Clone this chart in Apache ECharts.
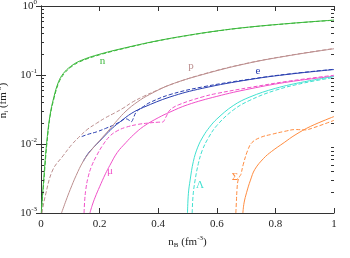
<!DOCTYPE html>
<html><head><meta charset="utf-8">
<script src="https://cdn.jsdelivr.net/npm/echarts@6/dist/echarts.min.js"></script>
<style>html,body{margin:0;padding:0;background:#fff}#c{width:350px;height:258px}</style>
</head><body><div id="c"></div>
<script>
// Data: [nB, n_i]
var nSolid = [[0.001,0.001],[0.004,0.0016],[0.008,0.0026],[0.013,0.005],[0.019,0.01],[0.03,0.025],[0.044,0.048],[0.06,0.08],[0.076,0.105],[0.1,0.132],[0.133,0.16],[0.2,0.2],[0.3,0.255],[0.4,0.315],[0.5,0.375],[0.6,0.435],[0.7,0.49],[0.85,0.56],[1.0,0.625]];
var nDashed = [[0.002,0.001],[0.005,0.0016],[0.009,0.0026],[0.014,0.005],[0.02,0.01],[0.031,0.025],[0.045,0.047],[0.061,0.078],[0.078,0.103],[0.1,0.128],[0.133,0.156],[0.2,0.196],[0.3,0.252],[0.4,0.313],[0.5,0.373],[0.6,0.433],[0.7,0.488],[0.85,0.558],[1.0,0.622]];
var pSolid = [[0.07,0.001],[0.085,0.0015],[0.1,0.0022],[0.12,0.0035],[0.144,0.0056],[0.17,0.008],[0.2,0.0112],[0.235,0.0165],[0.26,0.022],[0.29,0.03],[0.33,0.041],[0.37,0.052],[0.44,0.072],[0.55,0.101],[0.7,0.146],[0.85,0.192],[1.0,0.24]];
var pDashed = [[0.003,0.001],[0.015,0.0018],[0.04,0.0042],[0.076,0.0068],[0.105,0.0098],[0.133,0.013],[0.16,0.0165],[0.19,0.02],[0.22,0.024],[0.25,0.028],[0.28,0.033],[0.31,0.04],[0.35,0.049],[0.4,0.061],[0.44,0.072],[0.55,0.102],[0.7,0.147],[0.85,0.193],[1.0,0.242]];
var eSolid = [[0.144,0.0056],[0.16,0.0072],[0.18,0.009],[0.2,0.011],[0.22,0.0135],[0.245,0.0172],[0.27,0.021],[0.31,0.028],[0.35,0.034],[0.44,0.048],[0.55,0.064],[0.713,0.086],[0.85,0.103],[1.0,0.12]];
var eDashed = [[0.139,0.0128],[0.16,0.0138],[0.19,0.015],[0.22,0.0168],[0.25,0.019],[0.27,0.021],[0.29,0.0232],[0.3,0.0222],[0.308,0.021],[0.315,0.0235],[0.325,0.029],[0.35,0.035],[0.372,0.04],[0.44,0.052],[0.55,0.067],[0.713,0.087],[0.85,0.104],[1.0,0.121]];
var muSolid = [[0.167,0.001],[0.175,0.0013],[0.185,0.0017],[0.2,0.0024],[0.22,0.0037],[0.235,0.0049],[0.26,0.0075],[0.29,0.0105],[0.315,0.0135],[0.35,0.018],[0.4,0.024],[0.44,0.029],[0.5,0.037],[0.6,0.049],[0.713,0.063],[0.85,0.08],[1.0,0.096]];
var muDashed = [[0.147,0.001],[0.149,0.0015],[0.153,0.0022],[0.16,0.0032],[0.172,0.0047],[0.19,0.0068],[0.21,0.0095],[0.235,0.013],[0.26,0.0155],[0.29,0.0175],[0.33,0.0192],[0.37,0.0202],[0.4,0.0207],[0.415,0.0208],[0.425,0.024],[0.44,0.031],[0.47,0.037],[0.55,0.048],[0.6,0.054],[0.713,0.066],[0.85,0.082],[1.0,0.099]];
var lamSolid = [[0.5,0.001],[0.503,0.0019],[0.509,0.003],[0.52,0.0056],[0.535,0.009],[0.554,0.013],[0.575,0.0175],[0.6,0.023],[0.656,0.036],[0.713,0.048],[0.8,0.064],[0.9,0.08],[1.0,0.095]];
var lamDashed = [[0.516,0.001],[0.519,0.0018],[0.526,0.003],[0.537,0.0052],[0.55,0.008],[0.57,0.012],[0.6,0.0185],[0.656,0.031],[0.713,0.043],[0.8,0.06],[0.9,0.077],[1.0,0.092]];
var sigSolid = [[0.689,0.001],[0.693,0.0014],[0.702,0.002],[0.715,0.003],[0.73,0.0043],[0.76,0.0062],[0.787,0.0078],[0.83,0.0105],[0.867,0.0135],[0.92,0.018],[1.0,0.025]];
var sigDashed = [[0.665,0.001],[0.667,0.0015],[0.669,0.0022],[0.672,0.0029],[0.678,0.0034],[0.682,0.0036],[0.69,0.005],[0.705,0.008],[0.72,0.0105],[0.75,0.0125],[0.787,0.0138],[0.83,0.0152],[0.87,0.0162],[0.9,0.016],[0.93,0.0172],[1.0,0.022]];
var xTicks = [0, 0.2, 0.4, 0.6, 0.8, 1];
var yMajor = [0.001, 0.01, 0.1, 1];
var yMinor = [];
[0.001,0.01,0.1].forEach(function(d){for(var k=2;k<=9;k++){yMinor.push(+(d*k).toPrecision(3));}});

var FONT = '"Liberation Serif","DejaVu Serif",serif';
var C = {n:'#3cb83c', p:'#bc8f8f', e:'#2a3fb0', mu:'#f050c8', lam:'#40e0d0', sig:'#ff8c40'};
function line(data,color,dashed,z){
  return {type:'line',data:data,showSymbol:false,symbol:'none',smooth:0.4,
    xAxisIndex:0,yAxisIndex:0,z:z||2,
    lineStyle:{color:color,width:1,type:dashed?[4,2]:'solid'},silent:true,animation:false};
}
function expLabel(v){
  var e = Math.round(Math.log10(v));
  return '{b|10}{s|'+e+'}';
}
var rich = {b:{fontFamily:FONT,fontSize:11,color:'#222'},s:{fontFamily:FONT,fontSize:7,color:'#222',padding:[0,0,7,0]}};
var chart = echarts.init(document.getElementById('c'),null,{renderer:'canvas'});
function tickSeries(){
  return {type:'custom',xAxisIndex:0,yAxisIndex:0,silent:true,animation:false,z:5,
    data:yMinor.map(function(v){return [0,v];}),
    renderItem:function(params,api){
      var cs=params.coordSys;
      var pt=api.coord([0,api.value(1)]);
      var y=Math.round(pt[1])+0.5;
      return {type:'group',children:[
        {type:'line',shape:{x1:cs.x,y1:y,x2:cs.x+3,y2:y},style:{stroke:'#333',lineWidth:1}},
        {type:'line',shape:{x1:cs.x+cs.width-3,y1:y,x2:cs.x+cs.width,y2:y},style:{stroke:'#333',lineWidth:1}}
      ]};
    }};
}
function label(text,x,y,color){
  return {type:'line',xAxisIndex:0,yAxisIndex:0,data:[[x,y]],symbol:'none',silent:true,animation:false,lineStyle:{opacity:0},
    label:{show:false},
    markPoint:{symbol:'circle',symbolSize:0,data:[{coord:[x,y]}],label:{show:true,formatter:text,color:color,fontFamily:FONT,fontSize:11,position:'inside'}}};
}
var axisLine={show:true,lineStyle:{color:'#333',width:1}};
var nameRich = {b:{fontFamily:FONT,fontSize:11,color:'#222'},sub:{fontFamily:FONT,fontSize:7,color:'#222',padding:[6,0,0,0]},s:{fontFamily:FONT,fontSize:7,color:'#222',padding:[0,0,7,0]}};
chart.setOption({
  animation:false,
  grid:{left:41,top:6,right:16,bottom:45,containLabel:false,outerBoundsMode:'none'},
  xAxis:[
    {type:'value',min:0,max:1,interval:0.2,position:'bottom',axisLine:axisLine,
      axisTick:{show:true,inside:true,length:5,lineStyle:{color:'#333'}},splitLine:{show:false},
      axisLabel:{fontFamily:FONT,fontSize:11,color:'#222',margin:6,formatter:function(v){return v===0?'0':(v===1?'1':v.toFixed(1));}},
      name:'{b|n}{sub|B}{b| (fm}{s|-3}{b|)}',nameLocation:'middle',nameGap:20,
      nameTextStyle:{rich:nameRich}},
    {type:'value',min:0,max:1,interval:0.2,position:'top',axisLine:axisLine,
      axisTick:{show:true,inside:true,length:5,lineStyle:{color:'#333'}},splitLine:{show:false},axisLabel:{show:false}}
  ],
  yAxis:[
    {type:'log',logBase:10,min:0.001,max:1,position:'left',axisLine:axisLine,
      axisTick:{show:true,inside:true,length:5,lineStyle:{color:'#333'}},splitLine:{show:false},minorTick:{show:false},
      axisLabel:{formatter:expLabel,rich:rich,margin:4},
      name:'{b|n}{sub|i}{b| (fm}{s|-3}{b|)}',nameLocation:'middle',nameGap:24,nameRotate:90,
      nameTextStyle:{padding:[0,0,0,18],rich:nameRich}},
    {type:'log',logBase:10,min:0.001,max:1,position:'right',axisLine:axisLine,
      axisTick:{show:true,inside:true,length:5,lineStyle:{color:'#333'}},splitLine:{show:false},axisLabel:{show:false}}
  ],
  series:[
    line(nSolid,C.n,false),line(nDashed,C.n,true),
    line(eSolid,C.e,false,2),line(eDashed,C.e,true,2),
    line(pSolid,C.p,false,3),line(pDashed,C.p,true,3),
    line(muSolid,C.mu,false),line(muDashed,C.mu,true),
    line(lamSolid,C.lam,false),line(lamDashed,C.lam,true),
    line(sigSolid,C.sig,false),line(sigDashed,C.sig,true),
    tickSeries(),
    label('n',0.21,0.16,C.n),
    label('p',0.512,0.135,C.p),
    label('e',0.74,0.115,C.e),
    label('μ',0.235,0.004,C.mu),
    label('Λ',0.543,0.0025,C.lam),
    label('Σ',0.662,0.0033,C.sig)
  ]
});
</script></body></html>
